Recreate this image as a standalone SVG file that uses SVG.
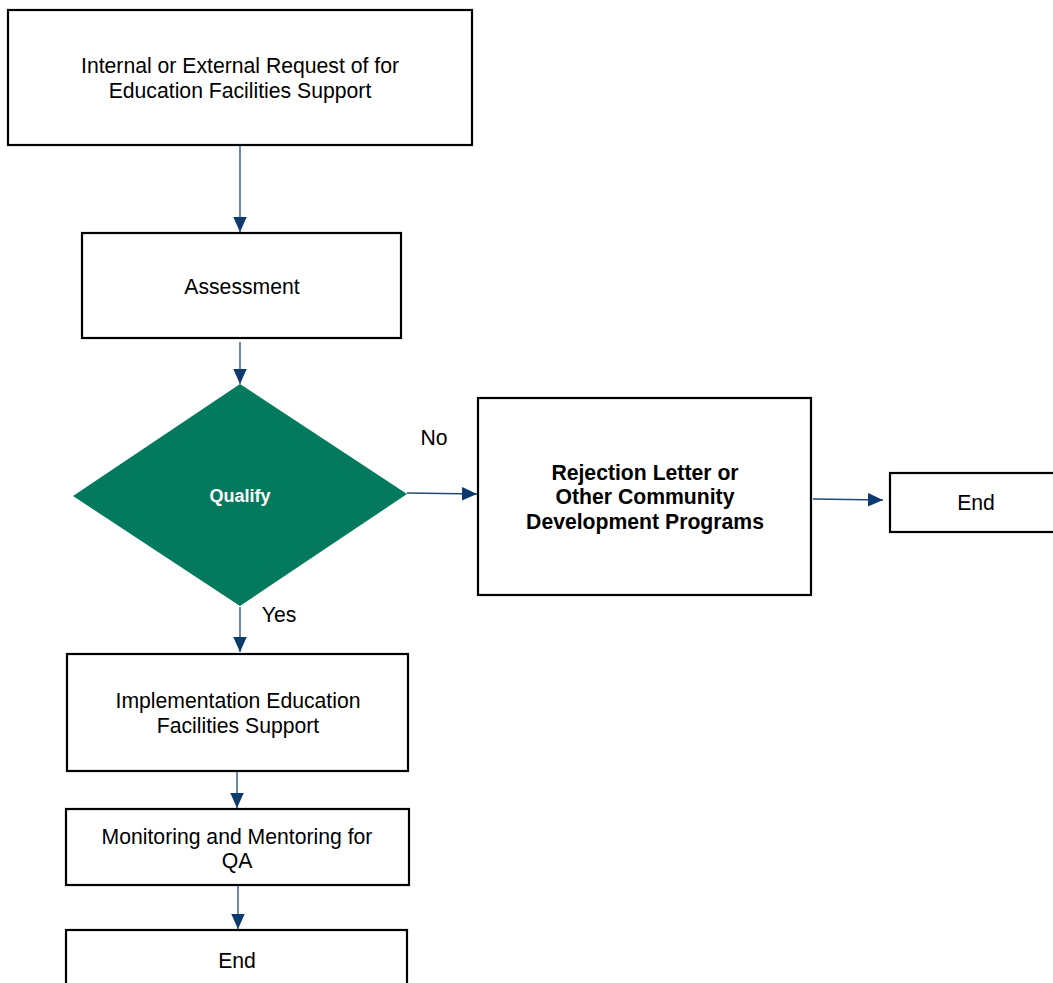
<svg xmlns="http://www.w3.org/2000/svg" width="1053" height="983" viewBox="0 0 1053 983">
  <style>
    .box { fill: #ffffff; stroke: #000000; stroke-width: 2.2; }
    .lbl { font-family: "Liberation Sans", Arial, sans-serif; font-size: 21.2px; fill: #000000; text-anchor: middle; }
    .bold { font-weight: bold; }
    .conn { stroke: #1f497d; stroke-width: 1.3; fill: none; marker-end: url(#arrow); }
  </style>
  <defs>
    <marker id="arrow" viewBox="0 0 10 10" refX="10" refY="5" markerWidth="15" markerHeight="15" markerUnits="userSpaceOnUse" orient="auto">
      <path d="M0,0.5 L10,5 L0,9.5 z" fill="#0b3a6e"/>
    </marker>
  </defs>
  <rect width="1053" height="983" fill="#ffffff"/>

  <g id="connectors">
    <line class="conn" x1="240" y1="146" x2="240" y2="232"/>
    <line class="conn" x1="240" y1="342" x2="240" y2="384"/>
    <line class="conn" x1="407" y1="493" x2="477" y2="494"/>
    <line class="conn" x1="813" y1="499" x2="883" y2="500"/>
    <line class="conn" x1="240" y1="607" x2="240" y2="652"/>
    <line class="conn" x1="237" y1="772" x2="237" y2="808"/>
    <line class="conn" x1="238" y1="886" x2="238" y2="929"/>
    <text class="lbl" x="434" y="445">No</text>
    <text class="lbl" x="279" y="622">Yes</text>
  </g>

  <g id="request">
    <rect class="box" x="8" y="10" width="464" height="135"/>
    <text class="lbl" x="240" y="73">Internal or External Request of for</text>
    <text class="lbl" x="240" y="98">Education Facilities Support</text>
  </g>

  <g id="assessment">
    <rect class="box" x="82" y="233" width="319" height="105"/>
    <text class="lbl" x="242" y="294">Assessment</text>
  </g>

  <g id="qualify">
    <polygon points="240,384 407,494 240,606 73,496" fill="#037a5e"/>
    <text class="lbl bold" x="240" y="502" style="fill:#ffffff;font-size:18px">Qualify</text>
  </g>

  <g id="rejection">
    <rect class="box" x="478" y="398" width="333" height="197"/>
    <text class="lbl bold" x="645" y="480">Rejection Letter or</text>
    <text class="lbl bold" x="645" y="504">Other Community</text>
    <text class="lbl bold" x="645" y="529">Development Programs</text>
  </g>

  <g id="end-right">
    <rect class="box" x="890" y="473" width="170" height="59"/>
    <text class="lbl" x="976" y="510">End</text>
  </g>

  <g id="implementation">
    <rect class="box" x="67" y="654" width="341" height="117"/>
    <text class="lbl" x="238" y="708">Implementation Education</text>
    <text class="lbl" x="238" y="733">Facilities Support</text>
  </g>

  <g id="monitoring">
    <rect class="box" x="66" y="809" width="343" height="76"/>
    <text class="lbl" x="237" y="844">Monitoring and Mentoring for</text>
    <text class="lbl" x="237" y="868">QA</text>
  </g>

  <g id="end-bottom">
    <rect class="box" x="66" y="930" width="341" height="70"/>
    <text class="lbl" x="237" y="968">End</text>
  </g>
</svg>
